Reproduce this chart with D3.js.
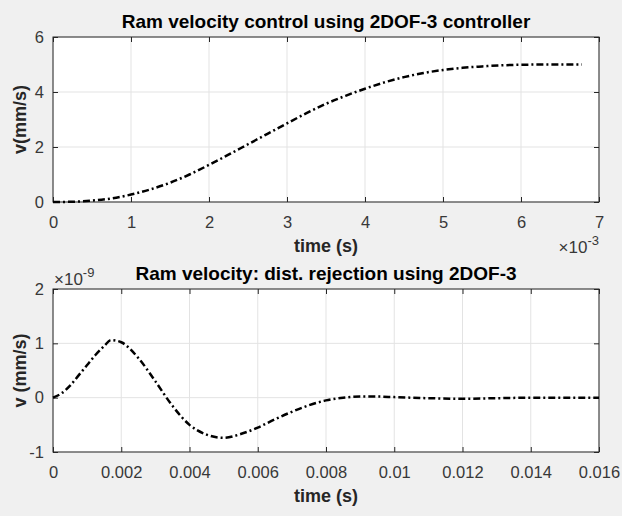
<!DOCTYPE html>
<html>
<head>
<meta charset="utf-8">
<script src="https://d3js.org/d3.v7.min.js"></script>
<style>
  body { margin: 0; background: #f0f0f0; }
  svg { display: block; background: #f0f0f0; font-family: "Liberation Sans", Arial, sans-serif; }
  .ttl { font-weight: bold; font-size: 19px; fill: #000; }
  .lbl { font-weight: bold; font-size: 18px; fill: #262626; }
</style>
</head>
<body>
<svg width="622" height="516"></svg>
<script>
var svg = d3.select("svg"),
    width = +svg.attr("width"),
    height = +svg.attr("height");

// top plot: set-point response (time in ms, v in mm/s)
var tTop = [0, 0.25, 0.5, 0.75, 1, 1.25, 1.5, 1.75, 2, 2.25, 2.5, 2.75, 3, 3.25, 3.5, 3.75, 4, 4.25, 4.5, 4.75, 5, 5.25, 5.5, 5.75, 6, 6.25, 6.5, 6.78];
var vTop = [0, 0.01, 0.05, 0.13, 0.27, 0.46, 0.7, 1.0, 1.35, 1.72, 2.1, 2.48, 2.86, 3.23, 3.57, 3.86, 4.12, 4.35, 4.54, 4.69, 4.8, 4.88, 4.93, 4.97, 4.99, 5.0, 5.0, 5.0];
var topXTicks = [0, 1, 2, 3, 4, 5, 6, 7];
var topYTicks = [0, 2, 4, 6];

// bottom plot: disturbance rejection (v in 1e-9 mm/s)
var tBot = [0, 0.00025, 0.0005, 0.00075, 0.001, 0.00125, 0.0015, 0.0017, 0.002, 0.0025, 0.003, 0.0035, 0.004, 0.0045, 0.005, 0.0055, 0.006, 0.0065, 0.007, 0.0075, 0.008, 0.0085, 0.009, 0.0095, 0.01, 0.011, 0.012, 0.013, 0.014, 0.015, 0.016];
var vBot = [0, 0.08, 0.22, 0.41, 0.6, 0.79, 0.95, 1.06, 1.02, 0.73, 0.3, -0.15, -0.5, -0.68, -0.74, -0.67, -0.55, -0.4, -0.26, -0.14, -0.05, 0.0, 0.02, 0.02, 0.01, -0.01, -0.02, -0.01, 0.0, 0.0, 0.0];
var botXTicks = [0, 0.002, 0.004, 0.006, 0.008, 0.01, 0.012, 0.014, 0.016];
var botYTicks = [-1, 0, 1, 2];

function plain(d) { return String(d); }

function panel(o) {
  var x = d3.scaleLinear().domain(o.xDom).range([o.left, o.right]);
  var y = d3.scaleLinear().domain(o.yDom).range([o.bottom, o.top]);
  var g = svg.append("g");

  g.append("rect")
    .attr("x", o.left).attr("y", o.top)
    .attr("width", o.right - o.left).attr("height", o.bottom - o.top)
    .attr("fill", "#fff");

  // grid
  g.selectAll(".gx").data(o.xTicks).enter().append("line")
    .attr("x1", function(d) { return x(d); }).attr("x2", function(d) { return x(d); })
    .attr("y1", o.top).attr("y2", o.bottom)
    .attr("stroke", "#e3e3e3").attr("stroke-width", 1);
  g.selectAll(".gy").data(o.yTicks).enter().append("line")
    .attr("y1", function(d) { return y(d); }).attr("y2", function(d) { return y(d); })
    .attr("x1", o.left).attr("x2", o.right)
    .attr("stroke", "#e3e3e3").attr("stroke-width", 1);

  // axes with inward ticks
  var xa = g.append("g").attr("transform", "translate(0," + o.bottom + ")")
    .call(d3.axisBottom(x).tickValues(o.xTicks).tickSizeInner(-5).tickSizeOuter(0).tickPadding(13).tickFormat(plain));
  var xt = g.append("g").attr("transform", "translate(0," + o.top + ")")
    .call(d3.axisTop(x).tickValues(o.xTicks).tickSizeInner(-5).tickSizeOuter(0).tickFormat(""));
  var ya = g.append("g").attr("transform", "translate(" + o.left + ",0)")
    .call(d3.axisLeft(y).tickValues(o.yTicks).tickSizeInner(-5).tickSizeOuter(0).tickPadding(9).tickFormat(plain));
  var yr = g.append("g").attr("transform", "translate(" + o.right + ",0)")
    .call(d3.axisRight(y).tickValues(o.yTicks).tickSizeInner(-5).tickSizeOuter(0).tickFormat(""));
  [xa, xt, ya, yr].forEach(function(a) {
    a.attr("font-family", "'Liberation Sans', Arial, sans-serif").attr("font-size", 16.5);
    a.select(".domain").remove();
    a.selectAll(".tick line").attr("stroke", "#262626");
    a.selectAll(".tick text").attr("fill", "#383838");
  });
  xa.selectAll(".tick text").attr("dy", "0.8em");

  g.append("rect")
    .attr("x", o.left).attr("y", o.top)
    .attr("width", o.right - o.left).attr("height", o.bottom - o.top)
    .attr("fill", "none").attr("stroke", "#262626").attr("stroke-width", 1);

  // curve
  var pts = o.t.map(function(d, i) { return [d, o.v[i]]; });
  g.append("path")
    .datum(pts)
    .attr("d", d3.line().x(function(d) { return x(d[0]); }).y(function(d) { return y(d[1]); }).curve(d3.curveMonotoneX))
    .attr("fill", "none")
    .attr("stroke", "#000")
    .attr("stroke-width", 2.5)
    .attr("stroke-dasharray", "7,3,2,3");

  g.append("text").attr("class", "ttl")
    .attr("x", (o.left + o.right) / 2).attr("y", o.top - 9)
    .attr("text-anchor", "middle").text(o.title);
  g.append("text").attr("class", "lbl")
    .attr("x", (o.left + o.right) / 2).attr("y", o.bottom + 50)
    .attr("text-anchor", "middle").text(o.xLabel);
  g.append("text").attr("class", "lbl")
    .attr("transform", "translate(26," + ((o.top + o.bottom) / 2) + ") rotate(-90)")
    .attr("text-anchor", "middle").text(o.yLabel);
  return g;
}

var g1 = panel({
  left: 53, right: 599, top: 37, bottom: 202,
  xDom: [0, 7], yDom: [0, 6], xTicks: topXTicks, yTicks: topYTicks,
  t: tTop, v: vTop,
  title: "Ram velocity control using 2DOF-3 controller",
  xLabel: "time (s)", yLabel: "v(mm/s)"
});
var e1 = g1.append("text").attr("x", 599).attr("y", 253).attr("text-anchor", "end")
  .attr("fill", "#383838").attr("font-size", 17);
e1.append("tspan").text("\u00d710");
e1.append("tspan").attr("dy", -8).attr("font-size", 13).text("-3");

var g2 = panel({
  left: 53, right: 599, top: 289, bottom: 452,
  xDom: [0, 0.016], yDom: [-1, 2], xTicks: botXTicks, yTicks: botYTicks,
  t: tBot, v: vBot,
  title: "Ram velocity: dist. rejection using 2DOF-3",
  xLabel: "time (s)", yLabel: "v (mm/s)"
});
var e2 = g2.append("text").attr("x", 54).attr("y", 285).attr("text-anchor", "start")
  .attr("fill", "#383838").attr("font-size", 17);
e2.append("tspan").text("\u00d710");
e2.append("tspan").attr("dy", -8).attr("font-size", 13).text("-9");
</script>
</body>
</html>
